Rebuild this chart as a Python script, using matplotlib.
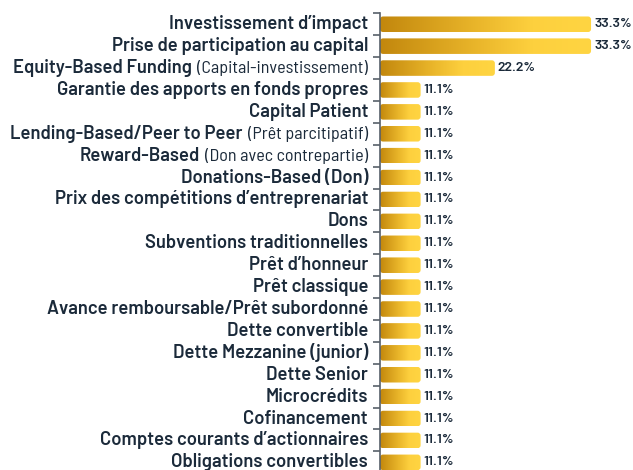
import numpy as np
import matplotlib
matplotlib.use("Agg")
import matplotlib.pyplot as plt
import matplotlib.transforms as mtransforms
from matplotlib.colors import LinearSegmentedColormap
from matplotlib.patches import FancyBboxPatch

# bold part, regular part (in parentheses), value in %
bold_labels = [
    "Investissement d’impact",
    "Prise de participation au capital",
    "Equity-Based Funding",
    "Garantie des apports en fonds propres",
    "Capital Patient",
    "Lending-Based/Peer to Peer",
    "Reward-Based",
    "Donations-Based (Don)",
    "Prix des compétitions d’entreprenariat",
    "Dons",
    "Subventions traditionnelles",
    "Prêt d’honneur",
    "Prêt classique",
    "Avance remboursable/Prêt subordonné",
    "Dette convertible",
    "Dette Mezzanine (junior)",
    "Dette Senior",
    "Microcrédits",
    "Cofinancement",
    "Comptes courants d’actionnaires",
    "Obligations convertibles",
]
regular_labels = ["", "", "(Capital-investissement)", "", "",
                  "(Prêt parcitipatif)", "(Don avec contrepartie)",
                  "", "", "", "", "", "", "", "", "", "", "", "", "", ""]
values = [33.3, 33.3, 22.2] + [11.1] * 18

FAM = ["Barlow", "DejaVu Sans"]
FAM_REG = ["Barlow Semi Condensed", "DejaVu Sans"]
TXT = "#1b2a3a"
P = 1.5
XMAX = 37.58

fig = plt.figure(figsize=(6.33, 4.7), dpi=100)
ax = fig.add_axes([380 / 633, -3.3 / 470, 253 / 633, 460 / 470])

ax.set_xscale("function", functions=(lambda x: np.abs(x) ** P,
                                     lambda x: np.abs(x) ** (1 / P)))
y = np.arange(len(values))
bars = ax.barh(y, values, height=0.71, color="none", edgecolor="none")
ax.set_xlim(0, XMAX)
ax.set_ylim(len(values) - 0.5, -0.5)

for s in ["top", "right", "bottom"]:
    ax.spines[s].set_visible(False)
ax.spines["left"].set_color("#58606a")
ax.spines["left"].set_linewidth(1.2)
ax.xaxis.set_visible(False)
ax.set_yticks(np.arange(-0.5, len(values) + 0.5, 1))
ax.set_yticklabels([])
ax.tick_params(axis="y", length=5, width=1.2, color="#58606a")

cmap = LinearSegmentedColormap.from_list(
    "gold", [(0, "#c2870d"), (0.45, "#e9b52a"), (0.72, "#fdd03e"), (1, "#ffd542")])
grad = np.linspace(0, 1, 256).reshape(1, -1)

fig.canvas.draw()
renderer = fig.canvas.get_renderer()
to_axes = ax.transAxes.inverted()
aw, ah = 253, 460
for b, v in zip(bars, values):
    bb = b.get_window_extent(renderer)
    (x0, y0), (x1, y1) = to_axes.transform([(bb.x0, bb.y0), (bb.x1, bb.y1)])
    patch = FancyBboxPatch((x0, y0), x1 - x0, y1 - y0,
                           boxstyle="round,pad=0,rounding_size=%f" % (3 / aw),
                           mutation_aspect=aw / ah,
                           transform=ax.transAxes, facecolor="none",
                           edgecolor="none")
    ax.add_patch(patch)
    im = ax.imshow(grad, cmap=cmap, aspect="auto", extent=(x0, x1, y0, y1),
                   transform=ax.transAxes, interpolation="bilinear")
    im.set_clip_path(patch)
    ax.text(x1 + 3 / aw, (y0 + y1) / 2, "%.1f%%" % v, transform=ax.transAxes,
            ha="left", va="center", fontsize=10, fontweight=600,
            family=FAM, color=TXT)

# restore limits after imshow
ax.set_xlim(0, XMAX)
ax.set_ylim(len(values) - 0.5, -0.5)

ytr = ax.get_yaxis_transform()
for i, (bl, rl) in enumerate(zip(bold_labels, regular_labels)):
    tr = mtransforms.offset_copy(ytr, fig, x=-12, units="dots")
    shift = 0
    if rl:
        t = ax.text(0, i, rl, transform=tr, ha="right", va="center",
                    fontsize=13, family=FAM_REG, color=TXT)
        shift = t.get_window_extent(renderer).width + 5
    tr2 = mtransforms.offset_copy(ytr, fig, x=-12 - shift, units="dots")
    ax.text(0, i, bl, transform=tr2, ha="right", va="center",
            fontsize=13.3, fontweight=600, family=FAM, color=TXT)

fig.savefig("out.png", dpi=100)
